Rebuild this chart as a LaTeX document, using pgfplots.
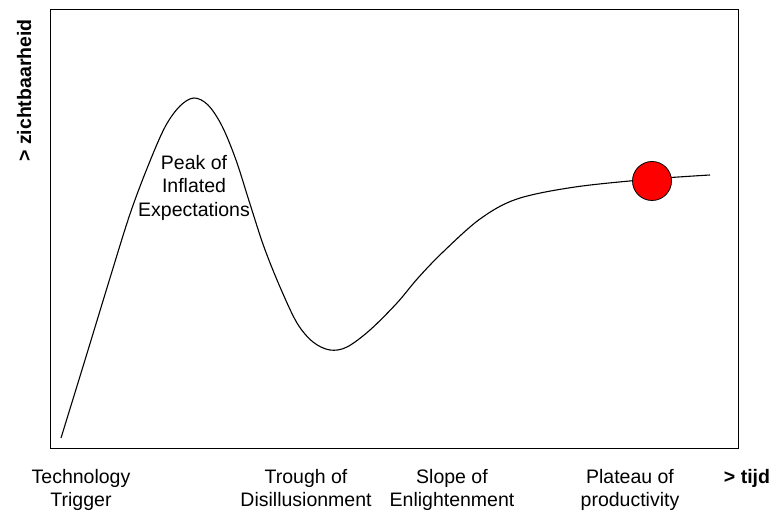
\documentclass[border=0pt]{standalone}
\usepackage{fontspec}
\setmainfont{Liberation Sans}
\usepackage{pgfplots}
\pgfplotsset{compat=1.18}
\newcommand{\lbl}{\fontsize{19.5}{23.5}\selectfont}
\begin{document}
\begin{tikzpicture}[x=1pt,y=1pt]
\path[use as bounding box] (-51,-65) rectangle (724,448);
\begin{axis}[
  at={(0,0)}, anchor=south west,
  width=687pt, height=438.5pt, scale only axis,
  xmin=51, xmax=738, ymin=0, ymax=438.5,
  xtick=\empty, ytick=\empty,
  clip=false,
  axis line style={line width=1pt, black},
]
\addplot[smooth, tension=0.55, black, line width=1.1pt] coordinates {
(61,10) (85,88) (110,170) (130,234) (148,282) (165,321) (180,342) (194,350)
(208,343) (222,322) (236,288) (250,244) (264,201) (280,161) (297,125)
(313,106) (330,98) (347,101) (370,118) (397,145) (418,170) (443,196)
(480,229) (517,249) (575,261) (652,269) (710,273)
};
\addplot[only marks, mark=*, mark size=19.5pt,
  mark options={fill=red, draw=black, line width=0.8pt}] coordinates {(652,267)};

\node[anchor=base, font=\lbl] at (axis cs:194,278) {Peak of};
\node[anchor=base, font=\lbl] at (axis cs:194,255) {Inflated};
\node[anchor=base, font=\lbl] at (axis cs:194,231) {Expectations};

\node[anchor=base, font=\lbl] at (axis cs:81,-35) {Technology};
\node[anchor=base, font=\lbl] at (axis cs:81,-58) {Trigger};
\node[anchor=base, font=\lbl] at (axis cs:306,-35) {Trough of};
\node[anchor=base, font=\lbl] at (axis cs:306,-58) {Disillusionment};
\node[anchor=base, font=\lbl] at (axis cs:452,-35) {Slope of};
\node[anchor=base, font=\lbl] at (axis cs:452,-58) {Enlightenment};
\node[anchor=base, font=\lbl] at (axis cs:630,-35) {Plateau of};
\node[anchor=base, font=\lbl] at (axis cs:630,-58) {productivity};
\node[anchor=base, font=\lbl\bfseries] at (axis cs:747,-35) {> tijd};
\node[anchor=base, rotate=90, font=\lbl\bfseries] at (axis cs:31,357.5) {> zichtbaarheid};
\end{axis}
\end{tikzpicture}
\end{document}
